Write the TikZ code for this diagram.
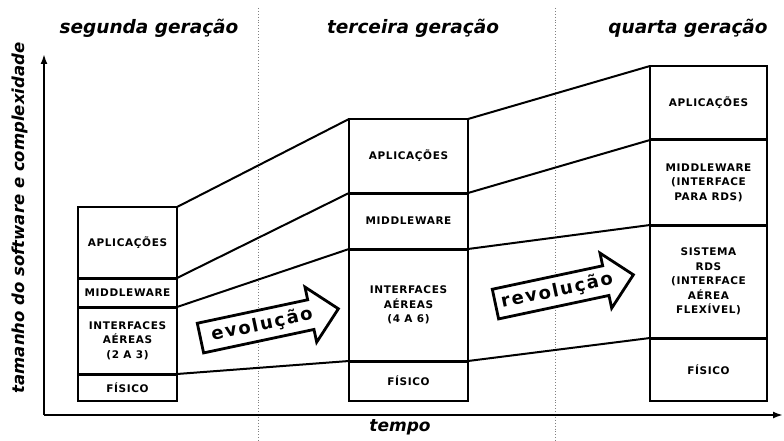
\documentclass[tikz,border=0pt]{standalone}
\usepackage{fontspec}
\setsansfont{DejaVu Sans}
\newfontfamily\boxfont{DejaVu Sans}[LetterSpace=6]
\newfontfamily\arrowfont{DejaVu Sans}[LetterSpace=10]
\usetikzlibrary{shapes.arrows,arrows.meta}
\tikzstyle{layer}=[draw, line width=1.2pt, inner sep=0pt, outer sep=0pt,
  align=center, font=\boxfont\bfseries\fontsize{10.5}{14.5}\selectfont]
\tikzstyle{divider}=[line width=3pt]
\tikzstyle{link}=[line width=2pt]
\tikzstyle{axis}=[line width=2.5pt, -{Latex[length=10pt,width=7pt]}]
\tikzstyle{timeline}=[gray, dotted, line width=0.9pt]
\tikzstyle{era}=[font=\sffamily\bfseries\itshape\fontsize{18.5}{20}\selectfont]
\tikzstyle{bigarrow}=[single arrow, draw, line width=2.8pt, fill=white,
  minimum height=141pt, single arrow head extend=13pt, inner xsep=4pt,
  inner ysep=5pt, font=\arrowfont\bfseries\fontsize{18}{20}\selectfont]
\newcommand{\layer}[4]{node (#1) [layer, minimum width=#2, minimum height=#3] {#4}}

\begin{document}
\begin{tikzpicture}[x=1pt, y=-1pt]
\useasboundingbox (0,0) rectangle (784,441);

% Draw time lines and axes
\coordinate (sepA top) at (258,8);
\coordinate (sepA bottom) at (258,441);
\coordinate (sepB top) at (555,8);
\coordinate (sepB bottom) at (555,441);
\draw[timeline] (sepA top) -- (sepA bottom);
\draw[timeline] (sepB top) -- (sepB bottom);
\coordinate (origin) at (44,415);
\coordinate (ytip) at (44,54);
\coordinate (xtip) at (783,415);
\draw[axis] (origin) -- (ytip);
\draw[axis] (origin) -- (xtip);

% Draw titles
\node[era] (era2) at (149,28) {segunda geração};
\node[era] (era3) at (413,28) {terceira geração};
\node[era] (era4) at (688,28) {quarta geração};
\node[era, font=\sffamily\bfseries\itshape\fontsize{16.5}{18}\selectfont,
  rotate=90] (ylabel) at (20,218) {tamanho do software e complexidade};
\node[era, font=\sffamily\bfseries\itshape\fontsize{17}{19}\selectfont]
  (xlabel) at (400,427) {tempo};

% Draw layers of each generation
\path (127.5,242.5) \layer{a1}{99pt}{71pt}{APLICAÇÕES};
\path (127.5,292.5) \layer{m1}{99pt}{29pt}{MIDDLEWARE};
\path (127.5,340.5) \layer{i1}{99pt}{67pt}{INTERFACES\\AÉREAS\\(2 A 3)};
\path (127.5,387.5) \layer{f1}{99pt}{27pt}{FÍSICO};

\path (408.5,156) \layer{a2}{119pt}{74pt}{APLICAÇÕES};
\path (408.5,221) \layer{m2}{119pt}{56pt}{MIDDLEWARE};
\path (408.5,305) \layer{i2}{119pt}{112pt}{INTERFACES\\AÉREAS\\(4 A 6)};
\path (408.5,381) \layer{f2}{119pt}{40pt}{FÍSICO};

\path (708.5,103) \layer{a3}{117pt}{74pt}{APLICAÇÕES};
\path (708.5,182.5) \layer{m3}{117pt}{85pt}{MIDDLEWARE\\(INTERFACE\\PARA RDS)};
\path (708.5,281.5) \layer{s3}{117pt}{113pt}{SISTEMA\\RDS\\(INTERFACE\\AÉREA\\FLEXÍVEL)};
\path (708.5,369.5) \layer{f3}{117pt}{63pt}{FÍSICO};

% Draw dividers
\draw[divider] (a1.south west) -- (a1.south east);
\draw[divider] (m1.south west) -- (m1.south east);
\draw[divider] (i1.south west) -- (i1.south east);
\draw[divider] (a2.south west) -- (a2.south east);
\draw[divider] (m2.south west) -- (m2.south east);
\draw[divider] (i2.south west) -- (i2.south east);
\draw[divider] (a3.south west) -- (a3.south east);
\draw[divider] (m3.south west) -- (m3.south east);
\draw[divider] (s3.south west) -- (s3.south east);

% Draw links between generations
\draw[link] (a1.north east) -- (a2.north west);
\draw[link] (a1.south east) -- (a2.south west);
\draw[link] (m1.south east) -- (m2.south west);
\draw[link] (i1.south east) -- (i2.south west);
\draw[link] (a2.north east) -- (a3.north west);
\draw[link] (a2.south east) -- (a3.south west);
\draw[link] (m2.south east) -- (m3.south west);
\draw[link] (i2.south east) -- (s3.south west);

% Draw big arrows
\node[bigarrow, rotate=12] (evo) at (262,325) {evolução};
\node[bigarrow, rotate=12] (revo) at (557,291) {revolução};
\end{tikzpicture}
\end{document}
